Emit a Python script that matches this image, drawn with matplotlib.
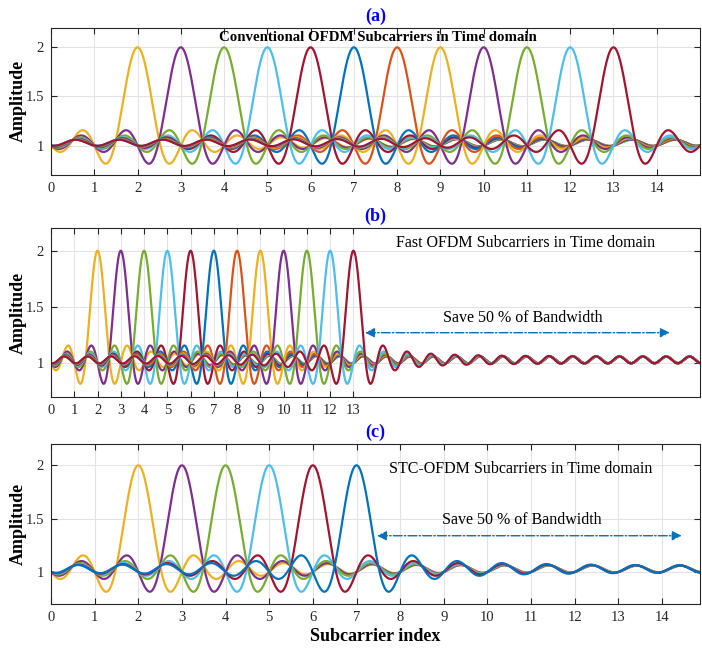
import numpy as np
import matplotlib.pyplot as plt

plt.rcParams['font.family'] = ['Liberation Serif', 'DejaVu Serif']
plt.rcParams['mathtext.fontset'] = 'stix'

# Subcarrier centres for each scheme
conv_centers = [2, 3, 4, 5, 6, 7, 8, 9, 10, 11, 12, 13]
fast_centers = [2, 3, 4, 5, 6, 7, 8, 9, 10, 11, 12, 13]
stc_centers = [2, 3, 4, 5, 6, 7]

# Axis extents and tick labels
conv_xmax = 15.0
fast_xmax = 27.9
stc_xmax = 14.87
conv_ticks = list(range(0, 15))
fast_ticks = list(range(0, 14))
stc_ticks = list(range(0, 15))
y_ticks = [1, 1.5, 2]

# Pulse shape: half-spaced sinc with a small residual ripple, on a 1.0 offset
ripple = 0.028
offset = 1.0

# MATLAB default colour order
colors = ['#0072BD', '#D95319', '#EDB120', '#7E2F8E',
          '#77AC30', '#4DBEEE', '#A2142F']


def subcarrier(x, k):
    t = x - k
    return offset + np.sinc(2 * t) + ripple * (1 - np.cos(2 * np.pi * t))


def style_axes(ax, xmax, ticks):
    ax.set_xlim(0, xmax)
    ax.set_ylim(0.7, 2.2)
    ax.set_xticks(ticks)
    ax.set_yticks(y_ticks)
    ax.set_yticklabels(['1', '1.5', '2'])
    ax.grid(True, color='#e3e3e3', linewidth=0.8)
    ax.set_axisbelow(True)
    ax.tick_params(direction='in', top=True, right=True, length=4,
                   width=0.8, colors='#262626', labelsize=10.5,
                   labelcolor='#262626', pad=5)
    for s in ax.spines.values():
        s.set_color('#262626')
        s.set_linewidth(0.8)
    ax.set_ylabel('Amplitude', fontsize=13, fontweight='bold', labelpad=-1)


def draw(ax, centers, xmax):
    x = np.linspace(0, xmax, 4000)
    for k in centers:
        ax.plot(x, subcarrier(x, k), color=colors[k % 7], linewidth=1.6)


def bandwidth_arrow(ax, x0, x1, y):
    ax.annotate('', xy=(x1, y), xytext=(x0, y),
                arrowprops=dict(arrowstyle='<|-|>', color='#0072BD',
                                linestyle='-.', linewidth=1.0,
                                mutation_scale=14, shrinkA=0, shrinkB=0))


fig = plt.figure(figsize=(7.02, 6.5), dpi=100)
W, H = 702, 650


def rect(top, bottom, left=51, right=700):
    return [left / W, 1 - bottom / H, (right - left) / W, (bottom - top) / H]


ax_a = fig.add_axes(rect(27.7, 175))
ax_b = fig.add_axes(rect(228.3, 396.7))
ax_c = fig.add_axes(rect(444, 604))

# (a) conventional OFDM
draw(ax_a, conv_centers, conv_xmax)
style_axes(ax_a, conv_xmax, conv_ticks)
ax_a.text(7.55, 2.10, 'Conventional OFDM Subcarriers in Time domain',
          ha='center', va='center', fontsize=10.7, fontweight='bold')
ax_a.set_title('(a)', color='blue', fontweight='bold', fontsize=13, pad=5)

# (b) fast OFDM
draw(ax_b, fast_centers, fast_xmax)
style_axes(ax_b, fast_xmax, fast_ticks)
ax_b.text(20.4, 2.07, 'Fast OFDM Subcarriers in Time domain',
          ha='center', va='center', fontsize=11.5)
ax_b.text(20.3, 1.40, 'Save 50 % of Bandwidth',
          ha='center', va='center', fontsize=11.5)
bandwidth_arrow(ax_b, 13.5, 26.6, 1.27)
ax_b.set_title('(b)', color='blue', fontweight='bold', fontsize=13, pad=5)

# (c) STC-OFDM
draw(ax_c, stc_centers, stc_xmax)
style_axes(ax_c, stc_xmax, stc_ticks)
ax_c.text(10.76, 1.97, 'STC-OFDM Subcarriers in Time domain',
          ha='center', va='center', fontsize=11.5)
ax_c.text(10.78, 1.49, 'Save 50 % of Bandwidth',
          ha='center', va='center', fontsize=11.5)
bandwidth_arrow(ax_c, 7.47, 14.45, 1.34)
ax_c.set_title('(c)', color='blue', fontweight='bold', fontsize=13, pad=5)
ax_c.set_xlabel('Subcarrier index', fontsize=13, fontweight='bold',
                labelpad=3)

fig.savefig('out.png', dpi=100)
